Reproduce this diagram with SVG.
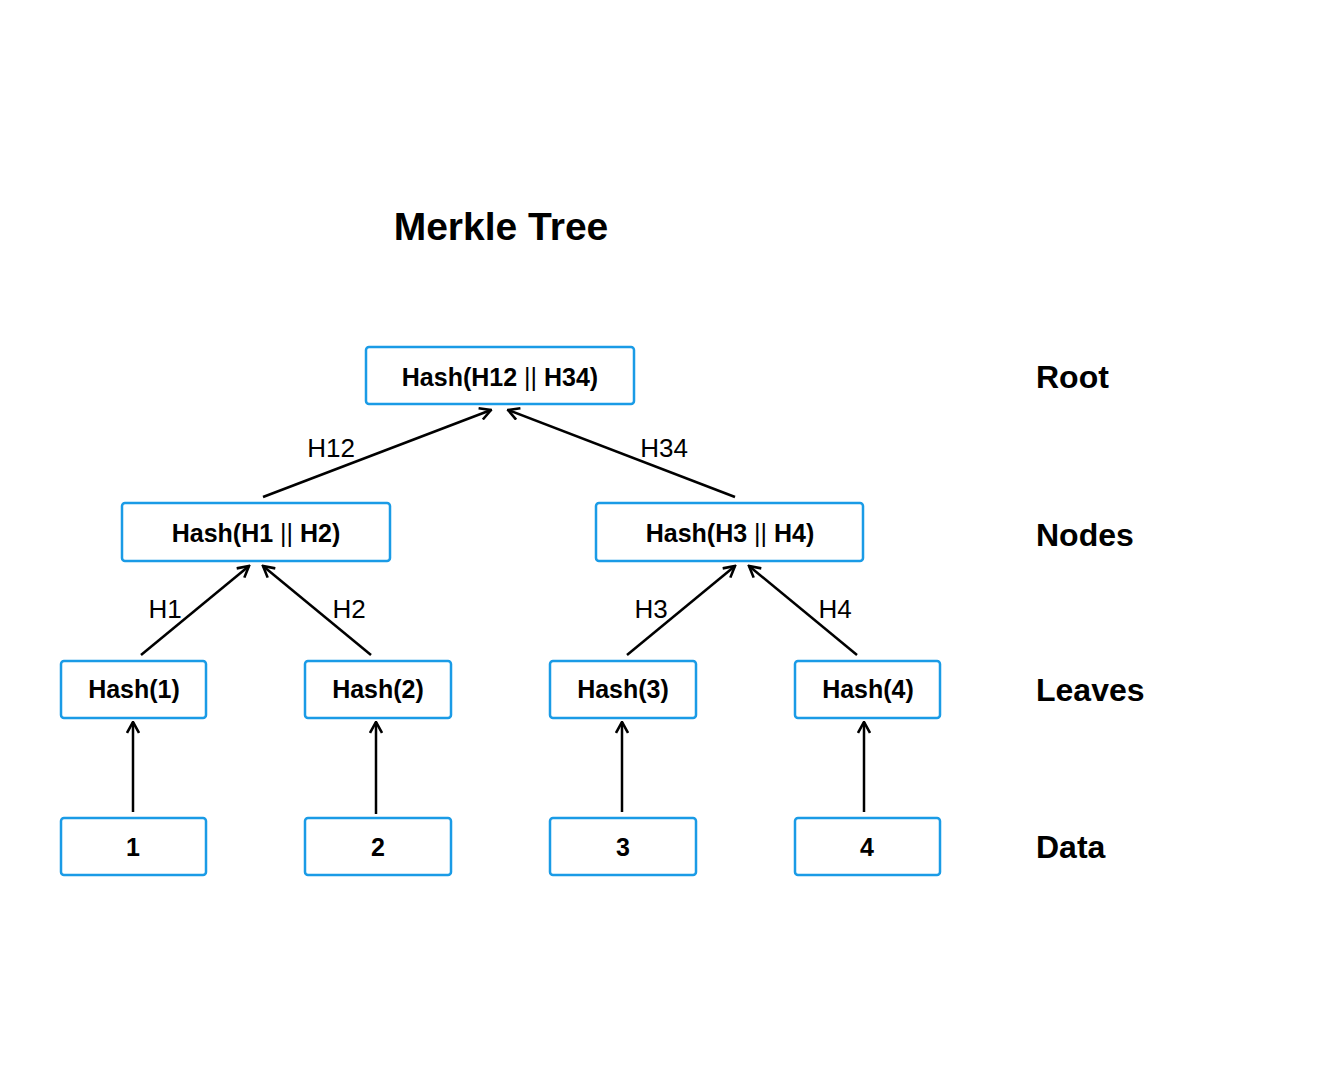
<svg xmlns="http://www.w3.org/2000/svg" width="1320" height="1081" viewBox="0 0 1320 1081">
<style>
.box{fill:#fff;stroke:#1a9be6;stroke-width:2.5}
.bt{font-family:"Liberation Sans",Arial,sans-serif;font-weight:bold;font-size:25px;fill:#000;text-anchor:middle}
.bar{font-weight:normal}
.lbl{font-family:"Liberation Sans",Arial,sans-serif;font-size:26px;fill:#000;text-anchor:middle}
.side{font-family:"Liberation Sans",Arial,sans-serif;font-weight:bold;font-size:32px;fill:#000}
.ln{stroke:#000;stroke-width:2.5;fill:none;marker-end:url(#ah)}
</style>
<defs>
<marker id="ah" viewBox="0 0 14 14" refX="12.5" refY="7" markerWidth="14" markerHeight="14" markerUnits="userSpaceOnUse" orient="auto">
<path d="M1.5,1 L12.5,7 L1.5,13" fill="none" stroke="#000" stroke-width="2.6"/>
</marker>
</defs>
<rect width="1320" height="1081" fill="#fff"/>
<text x="501" y="240" font-family="'Liberation Sans',Arial,sans-serif" font-weight="bold" font-size="39" text-anchor="middle">Merkle Tree</text>
<g id="connectors">
<line class="ln" x1="263" y1="497" x2="491" y2="410"/>
<line class="ln" x1="735" y1="497" x2="508" y2="410"/>
<line class="ln" x1="141" y1="655" x2="249" y2="566"/>
<line class="ln" x1="371" y1="655" x2="263" y2="566"/>
<line class="ln" x1="627" y1="655" x2="735" y2="566"/>
<line class="ln" x1="857" y1="655" x2="749" y2="566"/>
<line class="ln" x1="133" y1="812" x2="133" y2="722"/>
<line class="ln" x1="376" y1="814" x2="376" y2="722"/>
<line class="ln" x1="622" y1="812" x2="622" y2="722"/>
<line class="ln" x1="864" y1="812" x2="864" y2="722"/>
<text class="lbl" x="331" y="457">H12</text>
<text class="lbl" x="664" y="457">H34</text>
<text class="lbl" x="165" y="618">H1</text>
<text class="lbl" x="349" y="618">H2</text>
<text class="lbl" x="651" y="618">H3</text>
<text class="lbl" x="835" y="618">H4</text>
</g>
<g id="root"><rect class="box" x="366" y="347" width="268" height="57" rx="3"/><text class="bt" x="500" y="386">Hash(H12 <tspan class="bar">||</tspan> H34)</text></g>
<g id="node12"><rect class="box" x="122" y="503" width="268" height="58" rx="3"/><text class="bt" x="256" y="542">Hash(H1 <tspan class="bar">||</tspan> H2)</text></g>
<g id="node34"><rect class="box" x="596" y="503" width="267" height="58" rx="3"/><text class="bt" x="730" y="542">Hash(H3 <tspan class="bar">||</tspan> H4)</text></g>
<g id="leaf1"><rect class="box" x="61" y="661" width="145" height="57" rx="3"/><text class="bt" x="134" y="698">Hash(1)</text></g>
<g id="leaf2"><rect class="box" x="305" y="661" width="146" height="57" rx="3"/><text class="bt" x="378" y="698">Hash(2)</text></g>
<g id="leaf3"><rect class="box" x="550" y="661" width="146" height="57" rx="3"/><text class="bt" x="623" y="698">Hash(3)</text></g>
<g id="leaf4"><rect class="box" x="795" y="661" width="145" height="57" rx="3"/><text class="bt" x="868" y="698">Hash(4)</text></g>
<g id="data1"><rect class="box" x="61" y="818" width="145" height="57" rx="3"/><text class="bt" x="133" y="856">1</text></g>
<g id="data2"><rect class="box" x="305" y="818" width="146" height="57" rx="3"/><text class="bt" x="378" y="856">2</text></g>
<g id="data3"><rect class="box" x="550" y="818" width="146" height="57" rx="3"/><text class="bt" x="623" y="856">3</text></g>
<g id="data4"><rect class="box" x="795" y="818" width="145" height="57" rx="3"/><text class="bt" x="867" y="856">4</text></g>
<text class="side" x="1036" y="388">Root</text>
<text class="side" x="1036" y="546">Nodes</text>
<text class="side" x="1036" y="701">Leaves</text>
<text class="side" x="1036" y="858">Data</text>
</svg>
